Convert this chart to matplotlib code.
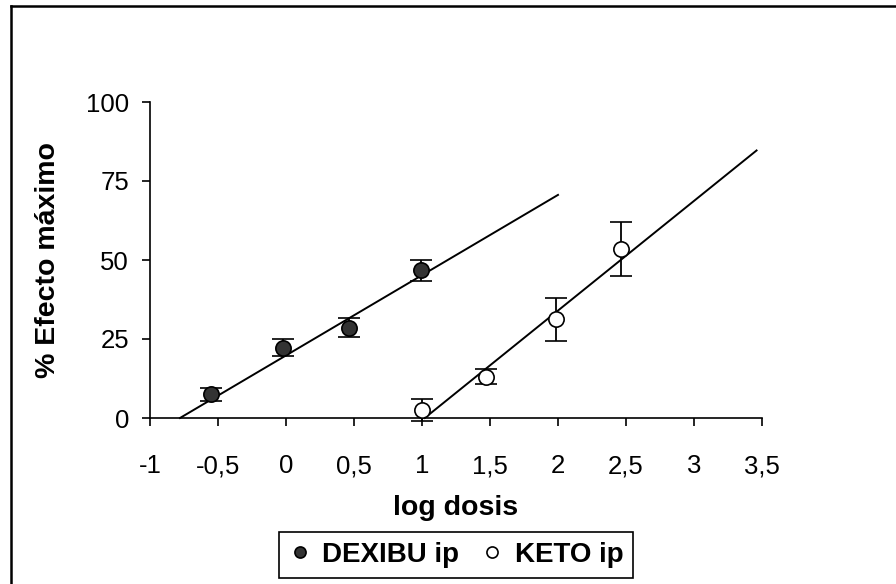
import numpy as np
import matplotlib
matplotlib.use('Agg')
import matplotlib.pyplot as plt
from matplotlib.lines import Line2D

plt.rcParams['font.family'] = ['Liberation Sans', 'DejaVu Sans']

# data
dex_x = [-0.55, -0.02, 0.46, 0.99]
dex_y = [7.5, 22.3, 28.5, 46.7]
dex_err = [2.0, 2.8, 3.0, 3.2]

keto_x = [1.0, 1.47, 1.985, 2.46]
keto_y = [2.5, 13.1, 31.2, 53.5]
keto_err = [3.4, 2.3, 6.8, 8.6]

# regression lines: slope, intercept, last x
dex_fit = (25.4, 19.8, 2.0)
keto_fit = (34.7, -35.4, 3.46)

xticks = [-1, -0.5, 0, 0.5, 1, 1.5, 2, 2.5, 3, 3.5]
xtick_labels = ['-1', '-0,5', '0', '0,5', '1', '1,5', '2', '2,5', '3', '3,5']
yticks = [0, 25, 50, 75, 100]

fig = plt.figure(figsize=(8.96, 5.84), dpi=100)
ax = fig.add_axes([150/896, 1-418/584, 612/896, 316/584])

for fit in (dex_fit, keto_fit):
    m, b, xend = fit
    xs = np.array([-b/m, xend])
    ax.plot(xs, m*xs + b, color='black', lw=1.4, clip_on=False, zorder=2)

ax.errorbar(dex_x, dex_y, yerr=dex_err, fmt='o', ms=11, mfc='#333333', mec='black',
            mew=1.2, ecolor='black', elinewidth=1.3, capsize=8, capthick=1.3,
            clip_on=False, zorder=3)
ax.errorbar(keto_x, keto_y, yerr=keto_err, fmt='o', ms=11, mfc='white', mec='black',
            mew=1.2, ecolor='black', elinewidth=1.3, capsize=8, capthick=1.3,
            clip_on=False, zorder=3)

ax.set_xlim(-1, 3.5)
ax.set_ylim(0, 100)
ax.set_xticks(xticks)
ax.set_xticklabels(xtick_labels)
ax.set_yticks(yticks)
ax.spines['top'].set_visible(False)
ax.spines['right'].set_visible(False)
for s in ('left', 'bottom'):
    ax.spines[s].set_linewidth(1.2)
ax.tick_params(axis='both', direction='out', length=6, width=1.2, labelsize=18.5)
ax.tick_params(axis='x', pad=20)
ax.tick_params(axis='y', pad=9)

ax.set_xlabel('log dosis', fontsize=20.5, fontweight='bold', labelpad=12)
ax.set_ylabel('% Efecto máximo', fontsize=20.5, fontweight='bold', labelpad=18)

handles = [
    Line2D([], [], ls='none', marker='o', ms=8, mfc='#333333', mec='black', mew=1.2),
    Line2D([], [], ls='none', marker='o', ms=8, mfc='white', mec='black', mew=1.2),
]
leg = fig.legend(handles, ['DEXIBU ip', 'KETO ip'], loc='center',
                 bbox_to_anchor=(456/896, 1-555/584), ncol=2, frameon=True,
                 fancybox=False, edgecolor='black', framealpha=1,
                 prop={'weight': 'bold', 'size': 20}, handlelength=0.8,
                 handletextpad=0.4, columnspacing=0.8, borderpad=0.35,
                 borderaxespad=0)
leg.get_frame().set_linewidth(1.2)

# outer frame (left and top edges only visible)
fig.add_artist(Line2D([11/896, 11/896], [0, 1-6/584], color='black', lw=1.8,
                      transform=fig.transFigure))
fig.add_artist(Line2D([11/896, 1], [1-6/584, 1-6/584], color='black', lw=1.8,
                      transform=fig.transFigure))

fig.savefig('out.png', dpi=100)
